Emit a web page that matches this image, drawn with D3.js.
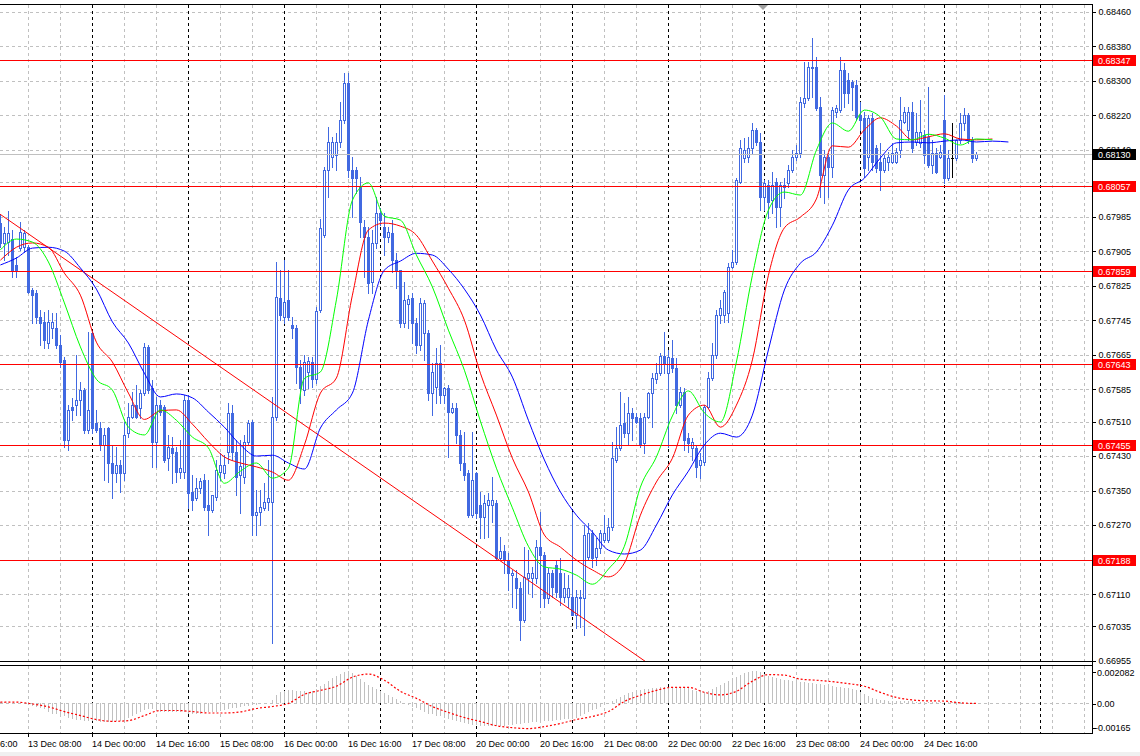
<!DOCTYPE html>
<html><head><meta charset="utf-8">
<script src="https://cdn.jsdelivr.net/npm/d3@7"></script>
<style>body{margin:0;background:#fff}svg{display:block}text{font-family:"Liberation Sans",Arial,sans-serif;font-size:9px}</style>
</head><body><svg id="c" width="1140" height="756"></svg>
<script>
// ---------- DATA (H1 candles, bar 0 = 13 Dec 01:00) ----------
const open=[0.67970,0.67924,0.67926,0.67933,0.67873,0.67912,0.67914,0.67914,0.67815,0.67808,0.67752,0.67741,0.67692,0.67727,0.67727,0.67687,0.67653,0.67467,0.67544,0.67548,0.67560,0.67583,0.67490,0.67715,0.67506,0.67495,0.67456,0.67495,0.67414,0.67391,0.67409,0.67391,0.67483,0.67520,0.67548,0.67541,0.67576,0.67683,0.67588,0.67463,0.67548,0.67544,0.67425,0.67449,0.67439,0.67393,0.67393,0.67560,0.67347,0.67333,0.67356,0.67374,0.67316,0.67305,0.67335,0.67393,0.67391,0.67439,0.67530,0.67439,0.67386,0.67381,0.67463,0.67509,0.67293,0.67300,0.67310,0.67323,0.67323,0.67520,0.67796,0.67752,0.67792,0.67734,0.67727,0.67636,0.67583,0.67625,0.67648,0.67608,0.67768,0.67942,0.68093,0.68123,0.68128,0.68158,0.68209,0.68295,0.68093,0.68093,0.68054,0.67961,0.67938,0.67833,0.67924,0.67993,0.67961,0.67938,0.67947,0.67884,0.67861,0.67738,0.67782,0.67796,0.67738,0.67687,0.67715,0.67715,0.67576,0.67590,0.67646,0.67571,0.67588,0.67532,0.67541,0.67479,0.67414,0.67391,0.67293,0.67391,0.67316,0.67289,0.67316,0.67316,0.67321,0.67194,0.67210,0.67189,0.67154,0.67147,0.67124,0.67050,0.67147,0.67147,0.67147,0.67219,0.67201,0.67101,0.67159,0.67177,0.67159,0.67103,0.67103,0.67103,0.67061,0.67101,0.67101,0.67196,0.67251,0.67196,0.67217,0.67235,0.67235,0.67265,0.67421,0.67449,0.67506,0.67483,0.67530,0.67520,0.67518,0.67460,0.67520,0.67576,0.67608,0.67622,0.67662,0.67622,0.67657,0.67634,0.67548,0.67578,0.67472,0.67449,0.67449,0.67409,0.67416,0.67544,0.67611,0.67664,0.67757,0.67757,0.67761,0.67868,0.67880,0.68065,0.68121,0.68123,0.68144,0.68186,0.68158,0.68030,0.68058,0.68023,0.68065,0.68007,0.68054,0.68063,0.68093,0.68123,0.68132,0.68248,0.68260,0.68329,0.68332,0.68239,0.68081,0.68123,0.68100,0.68227,0.68232,0.68325,0.68302,0.68297,0.68290,0.68220,0.68214,0.68123,0.68214,0.68144,0.68112,0.68093,0.68112,0.68112,0.68112,0.68139,0.68204,0.68186,0.68227,0.68158,0.68156,0.68174,0.68170,0.68105,0.68132,0.68123,0.68209,0.68074,0.68121,0.68121,0.68163,0.68202,0.68220,0.68163,0.68121];
const high=[0.67989,0.67961,0.67998,0.67954,0.67891,0.67972,0.67954,0.67919,0.67819,0.67815,0.67768,0.67764,0.67768,0.67761,0.67761,0.67711,0.67660,0.67548,0.67565,0.67664,0.67602,0.67588,0.67717,0.67720,0.67537,0.67509,0.67495,0.67497,0.67456,0.67451,0.67421,0.67509,0.67553,0.67578,0.67595,0.67583,0.67692,0.67687,0.67606,0.67567,0.67560,0.67548,0.67479,0.67474,0.67451,0.67467,0.67571,0.67571,0.67386,0.67379,0.67379,0.67388,0.67374,0.67340,0.67421,0.67437,0.67432,0.67553,0.67548,0.67467,0.67467,0.67479,0.67513,0.67513,0.67351,0.67351,0.67367,0.67421,0.67567,0.67880,0.67861,0.67884,0.67861,0.67752,0.67734,0.67653,0.67664,0.67660,0.67660,0.67775,0.67979,0.68100,0.68193,0.68170,0.68179,0.68251,0.68318,0.68318,0.68123,0.68100,0.68077,0.67977,0.67961,0.67954,0.68030,0.68005,0.67993,0.67961,0.67977,0.67901,0.67861,0.67833,0.67803,0.67808,0.67750,0.67796,0.67792,0.67722,0.67646,0.67680,0.67687,0.67590,0.67595,0.67553,0.67553,0.67490,0.67486,0.67398,0.67486,0.67393,0.67347,0.67340,0.67344,0.67381,0.67328,0.67242,0.67224,0.67205,0.67166,0.67166,0.67138,0.67219,0.67212,0.67173,0.67235,0.67300,0.67208,0.67170,0.67166,0.67189,0.67194,0.67159,0.67154,0.67300,0.67119,0.67119,0.67270,0.67275,0.67258,0.67240,0.67258,0.67293,0.67286,0.67463,0.67497,0.67578,0.67553,0.67567,0.67541,0.67530,0.67530,0.67530,0.67578,0.67622,0.67646,0.67669,0.67717,0.67676,0.67699,0.67657,0.67590,0.67588,0.67483,0.67472,0.67456,0.67437,0.67548,0.67625,0.67692,0.67768,0.67792,0.67815,0.67877,0.67908,0.68074,0.68163,0.68167,0.68170,0.68202,0.68190,0.68179,0.68070,0.68070,0.68088,0.68074,0.68065,0.68074,0.68105,0.68139,0.68151,0.68262,0.68343,0.68343,0.68399,0.68355,0.68262,0.68139,0.68132,0.68239,0.68244,0.68355,0.68341,0.68318,0.68302,0.68302,0.68251,0.68227,0.68220,0.68225,0.68151,0.68156,0.68128,0.68135,0.68156,0.68144,0.68262,0.68239,0.68239,0.68251,0.68225,0.68255,0.68186,0.68285,0.68163,0.68144,0.68151,0.68267,0.68139,0.68202,0.68163,0.68225,0.68237,0.68225,0.68170,0.68135];
const low=[0.67914,0.67884,0.67896,0.67845,0.67845,0.67908,0.67903,0.67808,0.67738,0.67738,0.67687,0.67680,0.67680,0.67704,0.67680,0.67636,0.67451,0.67444,0.67513,0.67525,0.67525,0.67483,0.67483,0.67483,0.67486,0.67444,0.67374,0.67370,0.67333,0.67370,0.67347,0.67374,0.67474,0.67518,0.67518,0.67518,0.67571,0.67576,0.67405,0.67405,0.67525,0.67416,0.67398,0.67367,0.67370,0.67379,0.67379,0.67310,0.67305,0.67328,0.67344,0.67305,0.67247,0.67300,0.67328,0.67374,0.67379,0.67414,0.67421,0.67340,0.67298,0.67367,0.67456,0.67247,0.67247,0.67270,0.67305,0.67305,0.66996,0.67513,0.67745,0.67738,0.67745,0.67704,0.67599,0.67553,0.67571,0.67588,0.67590,0.67599,0.67764,0.67938,0.68030,0.68100,0.68093,0.68146,0.68202,0.68077,0.67984,0.68040,0.67938,0.67845,0.67808,0.67808,0.67912,0.67965,0.67896,0.67926,0.67857,0.67819,0.67729,0.67729,0.67727,0.67692,0.67669,0.67676,0.67653,0.67560,0.67525,0.67553,0.67553,0.67553,0.67428,0.67530,0.67460,0.67398,0.67374,0.67289,0.67289,0.67286,0.67240,0.67240,0.67242,0.67277,0.67189,0.67189,0.67159,0.67119,0.67080,0.67078,0.67004,0.67045,0.67112,0.67103,0.67136,0.67080,0.67080,0.67089,0.67103,0.67103,0.67085,0.67092,0.67080,0.67080,0.67031,0.67034,0.67015,0.67189,0.67173,0.67177,0.67205,0.67231,0.67231,0.67258,0.67416,0.67444,0.67474,0.67456,0.67467,0.67506,0.67451,0.67437,0.67518,0.67497,0.67599,0.67618,0.67622,0.67451,0.67625,0.67530,0.67544,0.67444,0.67439,0.67421,0.67381,0.67379,0.67409,0.67541,0.67606,0.67657,0.67738,0.67741,0.67741,0.67866,0.67875,0.68063,0.68112,0.68112,0.68132,0.68151,0.68000,0.68000,0.67982,0.67993,0.67961,0.67963,0.68028,0.68054,0.68088,0.68116,0.68123,0.68239,0.68255,0.68262,0.68232,0.68030,0.68016,0.68030,0.68077,0.68216,0.68227,0.68239,0.68248,0.68232,0.68209,0.68186,0.68077,0.68093,0.68093,0.68088,0.68047,0.68088,0.68093,0.68109,0.68109,0.68123,0.68202,0.68163,0.68135,0.68151,0.68146,0.68109,0.68100,0.68086,0.68086,0.68121,0.68063,0.68070,0.68077,0.68116,0.68156,0.68186,0.68156,0.68112,0.68116];
const close=[0.67924,0.67947,0.67947,0.67861,0.67861,0.67949,0.67947,0.67810,0.67803,0.67752,0.67738,0.67699,0.67741,0.67741,0.67687,0.67648,0.67467,0.67537,0.67537,0.67560,0.67583,0.67490,0.67537,0.67495,0.67490,0.67456,0.67479,0.67414,0.67391,0.67409,0.67391,0.67479,0.67520,0.67548,0.67520,0.67576,0.67683,0.67583,0.67463,0.67548,0.67532,0.67421,0.67451,0.67437,0.67393,0.67402,0.67560,0.67344,0.67328,0.67356,0.67372,0.67312,0.67305,0.67340,0.67398,0.67409,0.67409,0.67530,0.67439,0.67381,0.67407,0.67463,0.67506,0.67293,0.67300,0.67312,0.67323,0.67333,0.67520,0.67799,0.67757,0.67787,0.67752,0.67727,0.67636,0.67588,0.67648,0.67650,0.67608,0.67766,0.67959,0.68093,0.68158,0.68158,0.68158,0.68209,0.68295,0.68093,0.68074,0.68074,0.67972,0.67938,0.67831,0.67924,0.67993,0.67977,0.67938,0.67949,0.67884,0.67861,0.67738,0.67792,0.67794,0.67738,0.67687,0.67785,0.67785,0.67576,0.67625,0.67646,0.67571,0.67588,0.67532,0.67541,0.67479,0.67414,0.67386,0.67293,0.67374,0.67298,0.67289,0.67321,0.67328,0.67328,0.67194,0.67210,0.67189,0.67159,0.67159,0.67124,0.67050,0.67150,0.67159,0.67159,0.67219,0.67201,0.67101,0.67159,0.67126,0.67115,0.67103,0.67124,0.67124,0.67061,0.67103,0.67103,0.67247,0.67251,0.67194,0.67217,0.67251,0.67251,0.67265,0.67425,0.67449,0.67502,0.67483,0.67530,0.67518,0.67509,0.67456,0.67520,0.67576,0.67611,0.67622,0.67662,0.67643,0.67660,0.67634,0.67548,0.67578,0.67467,0.67460,0.67463,0.67405,0.67421,0.67544,0.67611,0.67664,0.67757,0.67773,0.67810,0.67868,0.67880,0.68070,0.68144,0.68139,0.68144,0.68186,0.68158,0.68030,0.68063,0.68019,0.68058,0.68007,0.68058,0.68058,0.68093,0.68123,0.68132,0.68251,0.68260,0.68332,0.68332,0.68237,0.68081,0.68123,0.68100,0.68232,0.68237,0.68325,0.68271,0.68271,0.68285,0.68216,0.68209,0.68098,0.68214,0.68112,0.68098,0.68093,0.68121,0.68123,0.68132,0.68135,0.68209,0.68227,0.68227,0.68144,0.68181,0.68181,0.68128,0.68105,0.68132,0.68088,0.68135,0.68074,0.68121,0.68121,0.68163,0.68202,0.68220,0.68163,0.68121,0.68130];
// Alligator lines, one value every 4 bars (shifted forward past the last candle)
const maStep=4;
const jaw=[0.67873,0.67889,0.67912,0.67914,0.67905,0.67866,0.67817,0.67741,0.67692,0.67622,0.67567,0.67574,0.67565,0.67532,0.67497,0.67456,0.67430,0.67432,0.67414,0.67400,0.67495,0.67537,0.67576,0.67745,0.67861,0.67882,0.67900,0.67896,0.67863,0.67817,0.67757,0.67676,0.67613,0.67513,0.67421,0.67347,0.67293,0.67254,0.67212,0.67203,0.67212,0.67270,0.67340,0.67395,0.67456,0.67483,0.67474,0.67525,0.67676,0.67815,0.67877,0.67903,0.67965,0.68047,0.68074,0.68121,0.68156,0.68158,0.68156,0.68160,0.68163,0.68158,0.68160,0.68158];
const teeth=[0.67884,0.67914,0.67924,0.67914,0.67854,0.67803,0.67694,0.67648,0.67576,0.67515,0.67535,0.67537,0.67504,0.67463,0.67428,0.67414,0.67405,0.67393,0.67374,0.67456,0.67576,0.67611,0.67803,0.67954,0.67970,0.67963,0.67942,0.67882,0.67819,0.67745,0.67622,0.67525,0.67425,0.67347,0.67247,0.67219,0.67189,0.67166,0.67150,0.67182,0.67293,0.67370,0.67425,0.67525,0.67548,0.67497,0.67548,0.67653,0.67849,0.67959,0.67984,0.68026,0.68149,0.68146,0.68186,0.68214,0.68195,0.68163,0.68170,0.68177,0.68165,0.68163,0.68165];
const lips=[0.67908,0.67933,0.67926,0.67880,0.67785,0.67683,0.67608,0.67583,0.67497,0.67479,0.67537,0.67513,0.67474,0.67449,0.67367,0.67395,0.67414,0.67379,0.67402,0.67610,0.67625,0.67792,0.68023,0.68063,0.67986,0.67977,0.67896,0.67822,0.67722,0.67629,0.67511,0.67402,0.67310,0.67221,0.67173,0.67168,0.67154,0.67133,0.67168,0.67221,0.67358,0.67428,0.67523,0.67581,0.67530,0.67509,0.67648,0.67849,0.68000,0.68042,0.68035,0.68139,0.68202,0.68183,0.68232,0.68216,0.68165,0.68163,0.68176,0.68167,0.68151,0.68165,0.68163];
// MACD histogram (per bar) and signal line (every 4 bars)
const macdHist=[0.00006,0.00006,0.00003,0,0,-0.00003,-0.00006,-0.00011,-0.00017,-0.00022,-0.00028,-0.00033,-0.00045,-0.00056,-0.00061,-0.00067,-0.00072,-0.00078,-0.00084,-0.00089,-0.00089,-0.00095,-0.00095,-0.00095,-0.00095,-0.001,-0.001,-0.001,-0.001,-0.00095,-0.00095,-0.00089,-0.00078,-0.00067,-0.00056,-0.00045,-0.00039,-0.00033,-0.00033,-0.00039,-0.00045,-0.00045,-0.00045,-0.0005,-0.0005,-0.0005,-0.0005,-0.00056,-0.00056,-0.00056,-0.00056,-0.0005,-0.0005,-0.00045,-0.00045,-0.00039,-0.00039,-0.00033,-0.00028,-0.00028,-0.00022,-0.00017,-0.00017,-0.00011,-0.00011,-0.00006,-0.00006,0,0.00017,0.00045,0.00061,0.00067,0.00072,0.00072,0.00067,0.00067,0.00067,0.00061,0.00067,0.00078,0.00095,0.00106,0.00123,0.00139,0.0015,0.00162,0.00173,0.00178,0.00167,0.0015,0.00134,0.00117,0.001,0.00089,0.00078,0.00067,0.00056,0.00045,0.00033,0.00022,0.00011,0,-0.00011,-0.00022,-0.00028,-0.00039,-0.00045,-0.00056,-0.00061,-0.00067,-0.00072,-0.00078,-0.00084,-0.00089,-0.00095,-0.001,-0.00106,-0.00111,-0.00117,-0.00117,-0.00123,-0.00123,-0.00123,-0.00123,-0.00123,-0.00123,-0.00123,-0.00117,-0.00117,-0.00111,-0.00111,-0.00106,-0.00106,-0.001,-0.001,-0.00095,-0.00095,-0.00095,-0.00095,-0.00089,-0.00089,-0.00084,-0.00084,-0.00084,-0.00078,-0.00067,-0.00061,-0.0005,-0.00039,-0.00033,-0.00022,-0.00011,0,0.00011,0.00022,0.00033,0.00045,0.00056,0.00061,0.00067,0.00072,0.00078,0.00078,0.00084,0.00084,0.00089,0.00089,0.00089,0.00089,0.00089,0.00089,0.00084,0.00084,0.00072,0.00067,0.00061,0.00061,0.00067,0.00078,0.00089,0.001,0.00111,0.00123,0.00134,0.00145,0.00156,0.00167,0.00173,0.00178,0.00178,0.00173,0.00162,0.0015,0.00145,0.00139,0.00134,0.00128,0.00128,0.00123,0.00123,0.00117,0.00117,0.00111,0.00111,0.00106,0.00106,0.001,0.00095,0.00095,0.00089,0.00089,0.00084,0.00084,0.00078,0.00072,0.00061,0.0005,0.00039,0.00028,0.00022,0.00017,0.00017,0.00011,0.00011,0.00011,0.00011,0.00011,0.00011,0.00011,0.00006,0.00006,0.00006,0.00006,0.00006,0.00006,0.00006,0.00006,0.00006,0.00006,0.00006,0.00006,0.00003,0.00003,0.00003,0.00003];
const macdSignal=[0.00007,0.00007,-0.00003,-0.00019,-0.00045,-0.00067,-0.00089,-0.00099,-0.00095,-0.00067,-0.00039,-0.00039,-0.00045,-0.00053,-0.00053,-0.00047,-0.00028,-0.00017,0,0.0005,0.00072,0.00095,0.00145,0.00162,0.00128,0.00067,0.00028,-0.00017,-0.0005,-0.00078,-0.001,-0.00123,-0.00134,-0.00139,-0.00128,-0.00111,-0.00089,-0.00072,-0.00045,0.00011,0.00045,0.00072,0.00089,0.00089,0.00061,0.00047,0.00067,0.00123,0.00159,0.00156,0.00134,0.00128,0.0012,0.00109,0.00095,0.00061,0.00033,0.00019,0.00014,0.00013,0.00003,0];
// Horizontal levels, trend line, current price
const levels=[0.68347,0.68057,0.67859,0.67643,0.67455,0.67188];
const trendBars=[0,160], trendPrices=[0.67990,0.66962];
const currentPrice=0.68130;
// Axis labels
const priceTicks=["0.68460","0.68380","0.68300","0.68220","0.68140","0.68065","0.67985","0.67905","0.67825","0.67745","0.67665","0.67585","0.67510","0.67430","0.67350","0.67270","0.67190","0.67110","0.67035","0.66955"];
const oscTicks=["0.002082","0.00","-0.00165"];
const timeLabels=["10 Dec 16:00","13 Dec 08:00","14 Dec 00:00","14 Dec 16:00","15 Dec 08:00","16 Dec 00:00","16 Dec 16:00","17 Dec 08:00","20 Dec 00:00","20 Dec 16:00","21 Dec 08:00","22 Dec 00:00","22 Dec 16:00","23 Dec 08:00","24 Dec 00:00","24 Dec 16:00"];
const timeLabelBars=[-9,7,23,39,55,71,87,103,119,135,151,167,183,199,215,231];
const daySeparatorBars=[23,47,71,95,119,143,167,191,215,236,260];

// ---------- DRAWING ----------
const W=1140,H=756, R=1092;
const mainTop=5, mainBot=661, oscTop=666, oscBot=733;
const BLUE="#4169E1", GRID="#C0C0C0";
const svg=d3.select("#c");
svg.append("rect").attr("width",W).attr("height",H).attr("fill","#fff");
svg.append("rect").attr("x",0).attr("y",752).attr("width",W).attr("height",4).attr("fill","#F0F0F0");

const x=d3.scaleLinear().domain([0,273]).range([0.4,1092.4]);
const y=d3.scaleLinear().domain([0.66955,0.68460]).range([661,11.7]);
const yo=d3.scaleLinear().domain([-0.00165,0.002082]).range([733.3,665.7]);
const px=v=>Math.floor(x(v))+0.5;
const py=v=>Math.round(y(v))+0.5;

const defs=svg.append("defs");
defs.append("clipPath").attr("id","cm").append("rect").attr("x",0).attr("y",mainTop).attr("width",R).attr("height",mainBot-mainTop);
defs.append("clipPath").attr("id","co").append("rect").attr("x",0).attr("y",oscTop).attr("width",R).attr("height",oscBot-oscTop);

const grid=svg.append("g").attr("shape-rendering","crispEdges");
const vGrid=d3.range(7,275,8).filter(b=>x(b)<R);
[[mainTop,mainBot],[oscTop,oscBot]].forEach(([t,b])=>{
  grid.selectAll(null).data(vGrid).enter().append("line")
    .attr("x1",d=>px(d)).attr("x2",d=>px(d)).attr("y1",t).attr("y2",b)
    .attr("stroke",GRID).attr("stroke-dasharray","3,3");
});
grid.selectAll(null).data(priceTicks).enter().append("line")
  .attr("x1",0).attr("x2",R).attr("y1",d=>py(+d)).attr("y2",d=>py(+d))
  .attr("stroke",GRID).attr("stroke-dasharray","3,3");
grid.append("line").attr("x1",0).attr("x2",R).attr("y1",Math.round(yo(0))+0.5).attr("y2",Math.round(yo(0))+0.5)
  .attr("stroke",GRID).attr("stroke-dasharray","3,3");
[[mainTop,mainBot],[oscTop,oscBot]].forEach(([t,b])=>{
  grid.selectAll(null).data(daySeparatorBars.filter(d=>x(d)<R)).enter().append("line")
    .attr("x1",d=>px(d)).attr("x2",d=>px(d)).attr("y1",t).attr("y2",b)
    .attr("stroke","#000").attr("stroke-dasharray","3,3");
});

// candles
const gc=svg.append("g").attr("clip-path","url(#cm)").attr("shape-rendering","crispEdges");
const idx=d3.range(open.length);
const cg=gc.selectAll("g.c").data(idx).enter().append("g");
cg.append("line")
  .attr("x1",i=>px(i)).attr("x2",i=>px(i))
  .attr("y1",i=>Math.round(y(high[i]))).attr("y2",i=>Math.round(y(low[i]))+1)
  .attr("stroke",i=>open[i]===close[i]?"#000":BLUE);
cg.filter(i=>close[i]<open[i]).append("rect")
  .attr("x",i=>px(i)-1.5).attr("width",3)
  .attr("y",i=>Math.round(y(open[i])))
  .attr("height",i=>Math.max(1,Math.round(y(close[i]))-Math.round(y(open[i]))+1))
  .attr("fill",BLUE);
cg.filter(i=>close[i]>open[i]).append("rect")
  .attr("x",i=>px(i)-1).attr("width",2)
  .attr("y",i=>Math.round(y(close[i]))+0.5)
  .attr("height",i=>Math.max(0,Math.round(y(open[i]))-Math.round(y(close[i]))))
  .attr("fill","#fff").attr("stroke",BLUE);
cg.filter(i=>close[i]===open[i]).append("line")
  .attr("x1",i=>px(i)-1.5).attr("x2",i=>px(i)+1.5)
  .attr("y1",i=>py(open[i])).attr("y2",i=>py(open[i])).attr("stroke","#000");

// objects
const go=svg.append("g").attr("clip-path","url(#cm)");
go.selectAll(null).data(levels).enter().append("line")
  .attr("x1",0).attr("x2",R).attr("y1",d=>py(d)).attr("y2",d=>py(d))
  .attr("stroke","#FF0000").attr("shape-rendering","crispEdges");
go.append("line").attr("x1",0).attr("x2",R).attr("y1",py(currentPrice)).attr("y2",py(currentPrice))
  .attr("stroke",GRID).attr("shape-rendering","crispEdges");
const tSlope=(trendPrices[1]-trendPrices[0])/(trendBars[1]-trendBars[0]);
go.append("line")
  .attr("x1",x(trendBars[0])-1).attr("y1",y(trendPrices[0]-tSlope/4))
  .attr("x2",x(trendBars[1]+10)).attr("y2",y(trendPrices[1]+tSlope*10))
  .attr("stroke","#FF0000").attr("stroke-width",1);

// alligator
const maLine=d3.line().x((d,k)=>x(k*maStep)).y(d=>y(d)).curve(d3.curveMonotoneX);
[[jaw,"#0000FF"],[teeth,"#FF0000"],[lips,"#00FF00"]].forEach(([arr,col])=>{
  go.append("path").attr("d",maLine(arr)).attr("fill","none").attr("stroke",col).attr("stroke-width",1);
});

// oscillator
const gos=svg.append("g").attr("clip-path","url(#co)");
gos.append("g").attr("shape-rendering","crispEdges").selectAll("line").data(macdHist).enter().append("line")
  .attr("x1",(d,i)=>px(i)).attr("x2",(d,i)=>px(i))
  .attr("y1",Math.round(yo(0))).attr("y2",d=>Math.round(yo(d)))
  .attr("stroke",GRID);
const sigLine=d3.line().x((d,k)=>x(k*maStep)).y(d=>yo(d)).curve(d3.curveMonotoneX);
gos.append("path").attr("d",sigLine(macdSignal)).attr("fill","none")
  .attr("stroke","#FF0000").attr("stroke-width",1.2).attr("stroke-dasharray","2,2");

// frames
const fr=svg.append("g").attr("stroke","#000").attr("shape-rendering","crispEdges");
fr.append("line").attr("x1",0).attr("x2",R+0.5).attr("y1",4.5).attr("y2",4.5);
fr.append("line").attr("x1",0).attr("x2",R+0.5).attr("y1",661.5).attr("y2",661.5);
fr.append("line").attr("x1",0).attr("x2",R+0.5).attr("y1",665.5).attr("y2",665.5);
fr.append("line").attr("x1",0).attr("x2",R+0.5).attr("y1",733.5).attr("y2",733.5);
fr.append("line").attr("x1",R+0.5).attr("x2",R+0.5).attr("y1",4).attr("y2",734);
svg.append("path").attr("d","M758,5L768,5L763,10Z").attr("fill","#A0A0A0");

// price axis (labels fully hidden behind a level box are left blank, as in the reference)
const hidden=t=>levels.some(v=>Math.abs(y(+t)-y(v))<5);
const pa=svg.append("g").attr("transform",`translate(${R+0.5},0)`)
  .call(d3.axisRight(y).tickValues(priceTicks.map(Number)).tickFormat((d,i)=>hidden(priceTicks[i])?"":priceTicks[i]).tickSize(3).tickPadding(3));
pa.select(".domain").remove();
pa.selectAll("line").attr("stroke","#000").attr("shape-rendering","crispEdges");
pa.selectAll("text").attr("fill","#000").style("font-size","9px").style("font-family","Liberation Sans, Arial, sans-serif");
const oa=svg.append("g");
const oscPos=[672.3,704,727.7];
oscTicks.forEach((t,i)=>{
  oa.append("line").attr("x1",R+0.5).attr("x2",R+3.5).attr("y1",Math.round(oscPos[i])+0.5).attr("y2",Math.round(oscPos[i])+0.5).attr("stroke","#000").attr("shape-rendering","crispEdges");
  oa.append("text").attr("x",t.startsWith("-")?R+3:R+5).attr("y",oscPos[i]+3.2).attr("fill","#000").text(t);
});
const lab=svg.append("g");
levels.forEach(v=>{
  const yy=Math.round(y(v));
  lab.append("rect").attr("x",R+1).attr("y",yy-5).attr("width",43).attr("height",11).attr("fill","#FF0000");
  lab.append("text").attr("x",R+6).attr("y",yy+3.5).attr("fill","#fff").text(v.toFixed(5));
});
{
  const yy=Math.round(y(currentPrice));
  lab.append("rect").attr("x",R+1).attr("y",yy-5).attr("width",43).attr("height",11).attr("fill","#000");
  lab.append("text").attr("x",R+6).attr("y",yy+3.5).attr("fill","#fff").text(currentPrice.toFixed(5));
}
// time axis
const ta=svg.append("g").attr("transform","translate(0,734)")
  .call(d3.axisBottom(x).tickValues(timeLabelBars).tickFormat((d,i)=>timeLabels[i]).tickSize(3));
ta.select(".domain").remove();
ta.selectAll(".tick").attr("transform",d=>`translate(${px(d)},0)`);
ta.selectAll("line").attr("stroke","#000").attr("shape-rendering","crispEdges");
ta.selectAll("text").attr("text-anchor","start").attr("x",-0.5).attr("y",13).attr("dy",null)
  .attr("fill","#000").style("font-size","9px").style("font-family","Liberation Sans, Arial, sans-serif");
</script></body></html>
